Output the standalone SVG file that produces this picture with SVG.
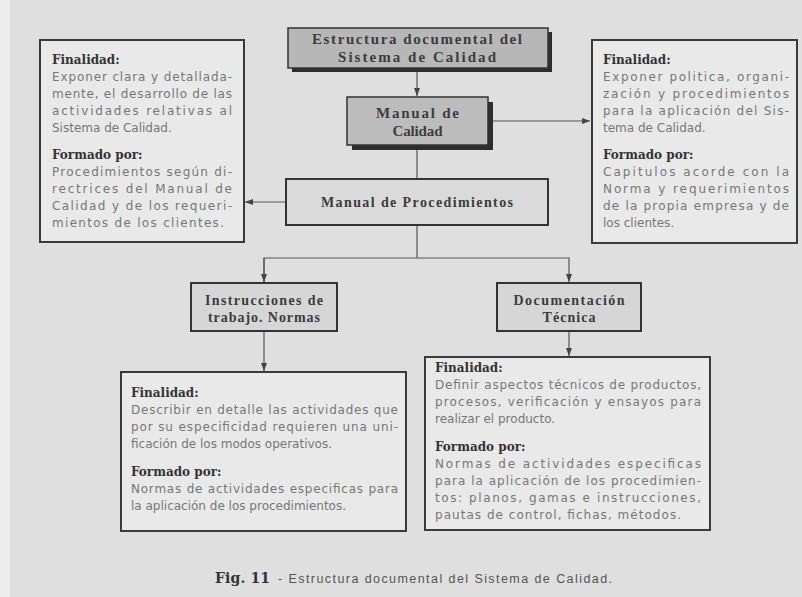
<svg xmlns="http://www.w3.org/2000/svg" width="802" height="597" viewBox="0 0 802 597">
<defs>
<marker id="ah" markerWidth="8" markerHeight="6" refX="8" refY="3" orient="auto" markerUnits="userSpaceOnUse">
<path d="M0,0 L8,3 L0,6 z" fill="#444"/>
</marker>
<style>
.info{fill:#e9e9e9;stroke:#3a3a3a;stroke-width:2}
.shadow{fill:#2e2e2e}
.title{font-family:"Liberation Serif",serif;font-weight:bold;fill:#3c3c3c;text-anchor:middle}
.t15{font-size:15px}
.t14{font-size:14px}
.head{font-family:"DejaVu Serif",serif;font-weight:bold;font-size:12px;fill:#333}
.body{font-family:"DejaVu Sans",sans-serif;font-size:12px;fill:#777}
.conn{stroke:#555;stroke-width:1.2;fill:none}
</style>
</defs>
<rect x="0" y="0" width="802" height="597" fill="#dfdfdf"/>
<rect x="0" y="0" width="10" height="597" fill="#ececec"/>

<g id="connectors">
<line class="conn" x1="417" y1="72" x2="417" y2="96" marker-end="url(#ah)"/>
<line class="conn" x1="493" y1="121" x2="590" y2="121" marker-end="url(#ah)"/>
<line class="conn" x1="417" y1="150" x2="417" y2="179"/>
<line class="conn" x1="286" y1="202" x2="245" y2="202" marker-end="url(#ah)"/>
<polyline class="conn" points="417,225 417,258"/>
<polyline class="conn" points="264,282 264,258 569,258 569,282" marker-end="url(#ah)"/>
<line class="conn" x1="264" y1="258" x2="264" y2="282" marker-end="url(#ah)"/>
<line class="conn" x1="264" y1="331" x2="264" y2="371" marker-end="url(#ah)"/>
<line class="conn" x1="569" y1="331" x2="569" y2="356" marker-end="url(#ah)"/>
</g>

<g id="estructura">
<rect class="shadow" x="292" y="32" width="260" height="40"/>
<rect x="288" y="28" width="260" height="40" fill="#b7b7b7" stroke="#333" stroke-width="1.5"/>
<text class="title t15" x="417" y="44" textLength="210">Estructura documental del</text>
<text class="title t15" x="417" y="62" textLength="158">Sistema de Calidad</text>
</g>

<g id="manual-calidad">
<rect class="shadow" x="352" y="102" width="141" height="48"/>
<rect x="347" y="97" width="141" height="48" fill="#bcbcbc" stroke="#333" stroke-width="1.5"/>
<text class="title t15" x="417.5" y="118" textLength="83">Manual de</text>
<text class="title t15" x="417.5" y="136" textLength="50">Calidad</text>
</g>

<g id="manual-procedimientos">
<rect x="286" y="179" width="262" height="46" fill="#dadada" stroke="#333" stroke-width="2"/>
<text class="title t14" x="417" y="207" textLength="192">Manual de Procedimientos</text>
</g>

<g id="instrucciones">
<rect x="191" y="283" width="146" height="48" fill="#d6d6d6" stroke="#333" stroke-width="2"/>
<text class="title t14" x="264" y="305" textLength="118">Instrucciones de</text>
<text class="title t14" x="264" y="322" textLength="112">trabajo. Normas</text>
</g>

<g id="documentacion">
<rect x="497" y="283" width="144" height="48" fill="#d6d6d6" stroke="#333" stroke-width="2"/>
<text class="title t14" x="569" y="305" textLength="111">Documentación</text>
<text class="title t14" x="569" y="322" textLength="53">Técnica</text>
</g>

<g id="info-procedimientos">
<rect class="info" x="40" y="40" width="204" height="202"/>
<text class="head" x="52" y="64">Finalidad:</text>
<text class="body" x="52" y="81" textLength="180">Exponer clara y detallada-</text>
<text class="body" x="52" y="98" textLength="180">mente, el desarrollo de las</text>
<text class="body" x="52" y="115" textLength="180">actividades relativas al</text>
<text class="body" x="52" y="132">Sistema de Calidad.</text>
<text class="head" x="52" y="159">Formado por:</text>
<text class="body" x="52" y="176" textLength="180">Procedimientos según di-</text>
<text class="body" x="52" y="193" textLength="180">rectrices del Manual de</text>
<text class="body" x="52" y="210" textLength="180">Calidad y de los requeri-</text>
<text class="body" x="52" y="227" textLength="172">mientos de los clientes.</text>
</g>

<g id="info-calidad">
<rect class="info" x="592" y="40" width="205" height="203"/>
<text class="head" x="603" y="64">Finalidad:</text>
<text class="body" x="603" y="81" textLength="186">Exponer politica, organi-</text>
<text class="body" x="603" y="98" textLength="186">zación y procedimientos</text>
<text class="body" x="603" y="115" textLength="186">para la aplicación del Sis-</text>
<text class="body" x="603" y="132">tema de Calidad.</text>
<text class="head" x="603" y="159">Formado por:</text>
<text class="body" x="603" y="176" textLength="186">Capitulos acorde con la</text>
<text class="body" x="603" y="193" textLength="186">Norma y requerimientos</text>
<text class="body" x="603" y="210" textLength="186">de la propia empresa y de</text>
<text class="body" x="603" y="227">los clientes.</text>
</g>

<g id="info-instrucciones">
<rect class="info" x="121" y="372" width="285" height="159"/>
<text class="head" x="131" y="397">Finalidad:</text>
<text class="body" x="131" y="414" textLength="267">Describir en detalle las actividades que</text>
<text class="body" x="131" y="431" textLength="267">por su especificidad requieren una uni-</text>
<text class="body" x="131" y="448">ficación de los modos operativos.</text>
<text class="head" x="131" y="476">Formado por:</text>
<text class="body" x="131" y="493" textLength="267">Normas de actividades especificas para</text>
<text class="body" x="131" y="510">la aplicación de los procedimientos.</text>
</g>

<g id="info-documentacion">
<rect class="info" x="425" y="357" width="285" height="173"/>
<text class="head" x="435" y="372">Finalidad:</text>
<text class="body" x="435" y="389" textLength="266">Definir aspectos técnicos de productos,</text>
<text class="body" x="435" y="406" textLength="266">procesos, verificación y ensayos para</text>
<text class="body" x="435" y="423">realizar el producto.</text>
<text class="head" x="435" y="451">Formado por:</text>
<text class="body" x="435" y="468" textLength="266">Normas de actividades especificas</text>
<text class="body" x="435" y="485" textLength="266">para la aplicación de los procedimien-</text>
<text class="body" x="435" y="502" textLength="266">tos: planos, gamas e instrucciones,</text>
<text class="body" x="435" y="519" textLength="246">pautas de control, fichas, métodos.</text>
</g>

<g id="caption">
<text x="215" y="583" font-family="DejaVu Serif, serif" font-weight="bold" font-size="14" fill="#333" textLength="55">Fig. 11</text>
<text x="278" y="583" font-family="Liberation Sans, sans-serif" font-size="12.5" fill="#555" textLength="334">- Estructura documental del Sistema de Calidad.</text>
</g>
</svg>
